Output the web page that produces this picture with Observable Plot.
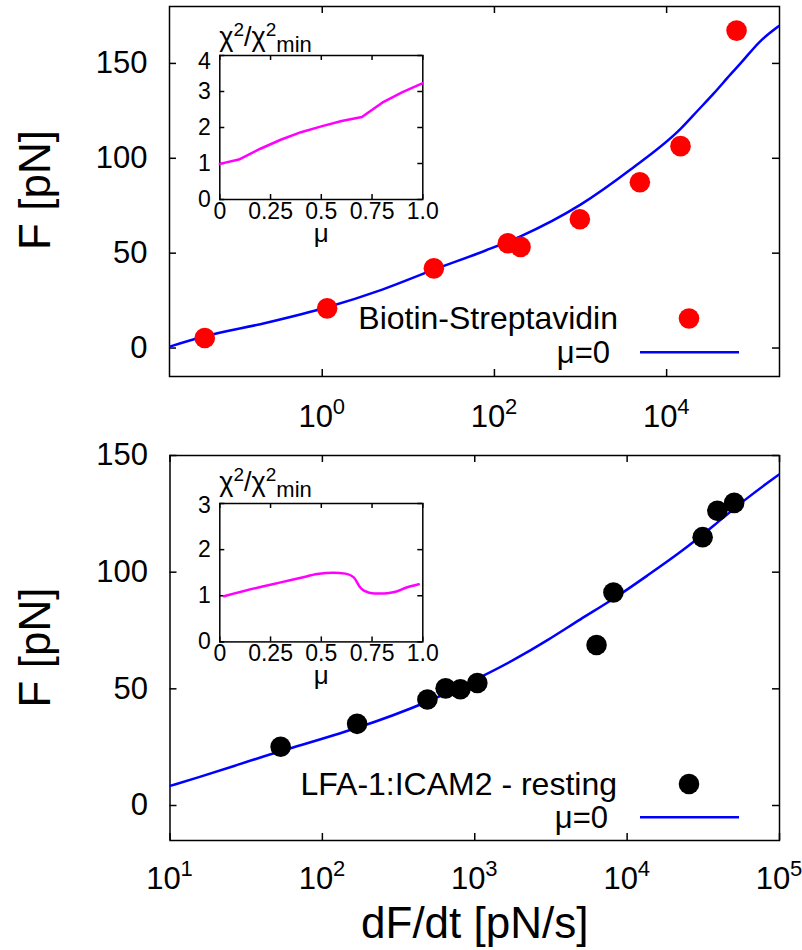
<!DOCTYPE html>
<html>
<head>
<meta charset="utf-8">
<script src="https://cdn.jsdelivr.net/npm/d3@7"></script>
<script src="https://cdn.jsdelivr.net/npm/@observablehq/plot@0.6"></script>
<style>
  body { margin: 0; background: #fff; }
  #chart { position: relative; width: 802px; height: 950px; background: #fff; overflow: hidden; }
</style>
</head>
<body>
<div id="chart"></div>
<script>
// ---------------- data ----------------
// Top panel: Biotin-Streptavidin
const bsRate  = [0.0432, 1.14, 19.8, 143, 201, 982, 4890, 14500, 64900];
const bsForce = [5.3, 20.9, 42.0, 55.2, 53.3, 67.9, 87.4, 106.4, 167.3];
const bsFitRate  = [0.0173, 0.0433, 0.219, 1.143, 4.98, 19.8, 78.9, 201, 1000, 3810, 14500, 22600, 35300, 55200, 72100, 123000, 201000];
const bsFitForce = [0.9, 6.2, 13.2, 21.5, 30.8, 41.3, 51.4, 58.9, 75.6, 94.1, 115.5, 124.8, 134.2, 144.2, 150, 161.8, 169.7];
const bsMu  = [0, 0.094, 0.2, 0.3, 0.4, 0.5, 0.6, 0.7, 0.8, 0.9, 1.0];
const bsChi = [0.99, 1.11, 1.41, 1.66, 1.87, 2.03, 2.18, 2.29, 2.69, 2.98, 3.23];

// Bottom panel: LFA-1:ICAM2 - resting
const lfaRate  = [53.2, 169, 489, 644, 805, 1040, 6300, 8130, 31300, 39100, 50400];
const lfaForce = [25.2, 35.0, 45.4, 50.2, 49.8, 52.5, 68.8, 91.3, 115, 126.3, 129.7];
const lfaFitRate  = [10, 15.5, 25.7, 53.1, 170, 501, 1175, 1811, 3000, 4966, 8222, 13610, 22540, 37240, 61660, 100000];
const lfaFitForce = [8.4, 12.1, 16.7, 23.4, 32.9, 44.3, 56, 62.4, 70.7, 80, 88.6, 98.6, 108.6, 120, 132.1, 142];
const lfaMu  = [0.02, 0.2, 0.3, 0.4, 0.48, 0.56, 0.62, 0.66, 0.69, 0.71, 0.76, 0.81, 0.86, 0.92, 0.98];
const lfaChi = [0.99, 1.19, 1.29, 1.39, 1.47, 1.50, 1.48, 1.40, 1.19, 1.11, 1.05, 1.05, 1.08, 1.18, 1.25];

// ticks and labels
const yTicksMain = [0, 50, 100, 150];
const xTicksTop = [1, 100, 10000];
const xExpTop = ["0", "2", "4"];
const xTicksBottom = [10, 100, 1000, 10000, 100000];
const xExpBottom = ["1", "2", "3", "4", "5"];
const muTicks = [0, 0.25, 0.5, 0.75, 1];
const muTickLabels = ["0", "0.25", "0.5", "0.75", "1.0"];
const chiTicksTop = [0, 1, 2, 3, 4];
const chiTicksBottom = [0, 1, 2, 3];

const legendTop = "Biotin-Streptavidin";
const legendBottom = "LFA-1:ICAM2 - resting";
const legendFit = "μ=0";
const yTitle = "F [pN]";
const xTitle = "dF/dt [pN/s]";

// ---------------- helpers ----------------
const FONT = "'Liberation Sans', Arial, Helvetica, sans-serif";
const BLUE = "#0000ff", RED = "#ff0000", MAGENTA = "#ff00ff";
const plotStyle = {fontFamily: FONT, fontSize: "30px", color: "black", background: "transparent", overflow: "visible"};
const chart = document.getElementById("chart");
function place(svg, left, topPx) {
  svg.style.position = "absolute";
  svg.style.left = left + "px";
  svg.style.top = topPx + "px";
  chart.appendChild(svg);
}
const zip = (xs, ys) => xs.map((x, i) => ({x, y: ys[i]}));

// inward ticks on all four sides (gnuplot "mirror" style), expressed in the scales' data units
// xd, yd: domains; logX: whether x is logarithmic; fw, fh: frame size in px; len: tick length in px
function frameTicks(xt, yt, xd, yd, logX, fw, fh, len) {
  const o = {stroke: "black", strokeWidth: 1.5};
  const dy = (yd[1] - yd[0]) * len / fh;
  const xIn = logX ? Math.pow(xd[1] / xd[0], len / fw) : null;
  const dxl = logX ? null : (xd[1] - xd[0]) * len / fw;
  const xL2 = logX ? xd[0] * xIn : xd[0] + dxl;
  const xR1 = logX ? xd[1] / xIn : xd[1] - dxl;
  return [
    Plot.ruleX(xt, {x: d => d, y1: yd[0], y2: yd[0] + dy, ...o}),
    Plot.ruleX(xt, {x: d => d, y1: yd[1] - dy, y2: yd[1], ...o}),
    Plot.ruleY(yt, {y: d => d, x1: xd[0], x2: xL2, ...o}),
    Plot.ruleY(yt, {y: d => d, x1: xR1, x2: xd[1], ...o})
  ];
}
function decadeLabels(ticks, exps, dy) {
  return [
    Plot.text(ticks, {x: d => d, frameAnchor: "bottom", dy, dx: -6.5, lineAnchor: "bottom", text: () => "10", fontSize: 31}),
    Plot.text(ticks, {x: d => d, frameAnchor: "bottom", dy: dy - 13, dx: 10.5, textAnchor: "start", lineAnchor: "bottom", text: (d, i) => exps[i], fontSize: 22})
  ];
}
function legendMark(label, color, textY, dotY, fitY, fitTextY, labelEnd, fitEnd) {
  return () => {
    const g = d3.create("svg:g").attr("font-family", FONT);
    g.append("text").attr("x", labelEnd).attr("y", textY).attr("text-anchor", "end").attr("font-size", 32).text(label);
    g.append("circle").attr("cx", 689).attr("cy", dotY).attr("r", 10.3).attr("fill", color);
    g.append("text").attr("x", fitEnd).attr("y", fitTextY).attr("text-anchor", "end").attr("font-size", 31).text(legendFit);
    g.append("line").attr("x1", 640).attr("x2", 739).attr("y1", fitY).attr("y2", fitY).attr("stroke", BLUE).attr("stroke-width", 2.5);
    return g.node();
  };
}
function yTitleMark(cy) {
  return () => {
    const g = d3.create("svg:g").attr("font-family", FONT);
    g.append("text").attr("transform", `translate(50,${cy}) rotate(-90)`).attr("text-anchor", "middle").attr("font-size", 44).text(yTitle);
    return g.node();
  };
}
function insetTitle(x, y) {
  return () => {
    const g = d3.create("svg:g").attr("font-family", FONT);
    const t = g.append("text").attr("x", x).attr("y", y).attr("text-anchor", "start").attr("font-size", 27);
    t.append("tspan").text("χ");
    t.append("tspan").attr("font-size", 19).attr("dy", -10).text("2");
    t.append("tspan").attr("dy", 10).text("/χ");
    t.append("tspan").attr("font-size", 19).attr("dy", -10).text("2");
    t.append("tspan").attr("font-size", 22).attr("dy", 16).text("min");
    return g.node();
  };
}
function inset(mu, chi, chiTicks, yMax, marginBottom, titleY, topLabelDy, curve) {
  const ML = 69.3, MR = 27.7, MT = 40, W = 300, H = 250;
  const xd = [0, 1], yd = [0, yMax];
  return Plot.plot({
    width: W, height: H,
    marginLeft: ML, marginRight: MR, marginTop: MT, marginBottom,
    x: {domain: xd, axis: null},
    y: {domain: yd, axis: null},
    style: plotStyle,
    marks: [
      Plot.frame({strokeWidth: 1.5}),
      ...frameTicks(muTicks, chiTicks, xd, yd, false, W - ML - MR, H - MT - marginBottom, 5),
      Plot.text(muTicks, {x: d => d, frameAnchor: "bottom", dy: 19.5, lineAnchor: "bottom", text: (d, i) => muTickLabels[i], fontSize: 23}),
      Plot.text(chiTicks.slice(0, -1), {y: d => d, frameAnchor: "left", dx: -9, textAnchor: "end", text: d => String(d), fontSize: 23}),
      Plot.text(chiTicks.slice(-1), {y: d => d, frameAnchor: "left", dx: -9, dy: topLabelDy, textAnchor: "end", text: d => String(d), fontSize: 23}),
      Plot.text(["μ"], {frameAnchor: "bottom", dy: 42, lineAnchor: "bottom", text: d => d, fontSize: 26}),
      Plot.line(zip(mu, chi), {x: "x", y: "y", stroke: MAGENTA, strokeWidth: 2.5, curve}),
      insetTitle(ML, titleY)
    ]
  });
}

// ---------------- top main panel ----------------
const topXd = [Math.pow(10, -1.774), Math.pow(10, 5.311)], topYd = [-15, 180];
const topPanel = Plot.plot({
  width: 802, height: 430,
  marginLeft: 169, marginRight: 23, marginTop: 6, marginBottom: 54,
  x: {type: "log", domain: topXd, axis: null},
  y: {domain: topYd, axis: null},
  style: plotStyle,
  marks: [
    Plot.frame({strokeWidth: 1.5}),
    ...frameTicks(xTicksTop, yTicksMain, topXd, topYd, true, 802 - 169 - 23, 430 - 6 - 54, 7),
    Plot.text(yTicksMain, {y: d => d, frameAnchor: "left", dx: -22, textAnchor: "end", text: d => String(d), fontSize: 31}),
    ...decadeLabels(xTicksTop, xExpTop, 50),
    Plot.line(zip(bsFitRate, bsFitForce), {x: "x", y: "y", stroke: BLUE, strokeWidth: 2.5, curve: "monotone-x", clip: true}),
    Plot.dot(zip(bsRate, bsForce), {x: "x", y: "y", r: 10.3, fill: RED}),
    legendMark(legendTop, RED, 329, 318.5, 352.3, 363, 618, 610),
    yTitleMark(190)
  ]
});
place(topPanel, 0, 0);

// ---------------- bottom main panel ----------------
const botXd = [10, 100000], botYd = [-15, 150];
const bottomPanel = Plot.plot({
  width: 802, height: 520,
  marginLeft: 169.5, marginRight: 23, marginTop: 25, marginBottom: 110,
  x: {type: "log", domain: botXd, axis: null},
  y: {domain: botYd, axis: null},
  style: plotStyle,
  marks: [
    Plot.frame({strokeWidth: 1.5}),
    ...frameTicks(xTicksBottom, yTicksMain, botXd, botYd, true, 802 - 169.5 - 23, 520 - 25 - 110, 7),
    Plot.text(yTicksMain, {y: d => d, frameAnchor: "left", dx: -22, textAnchor: "end", text: d => String(d), fontSize: 31}),
    ...decadeLabels(xTicksBottom, xExpBottom, 48),
    Plot.line(zip(lfaFitRate, lfaFitForce), {x: "x", y: "y", stroke: BLUE, strokeWidth: 2.5, curve: "basis", clip: true}),
    Plot.dot(zip(lfaRate, lfaForce), {x: "x", y: "y", r: 10.3, fill: "black"}),
    legendMark(legendBottom, "black", 365, 354, 387.3, 398.3, 617, 608),
    yTitleMark(217.5),
    Plot.text([xTitle], {frameAnchor: "bottom", dy: 97, lineAnchor: "bottom", text: d => d, fontSize: 44})
  ]
});
place(bottomPanel, 0, 430);

// ---------------- insets ----------------
place(inset(bsMu, bsChi, chiTicksTop, 4, 66, 31, 6, "linear"), 150, 15);
place(inset(lfaMu, lfaChi, chiTicksBottom, 3, 71.6, 28, 2, "monotone-x"), 150, 463.3);
</script>
</body>
</html>
